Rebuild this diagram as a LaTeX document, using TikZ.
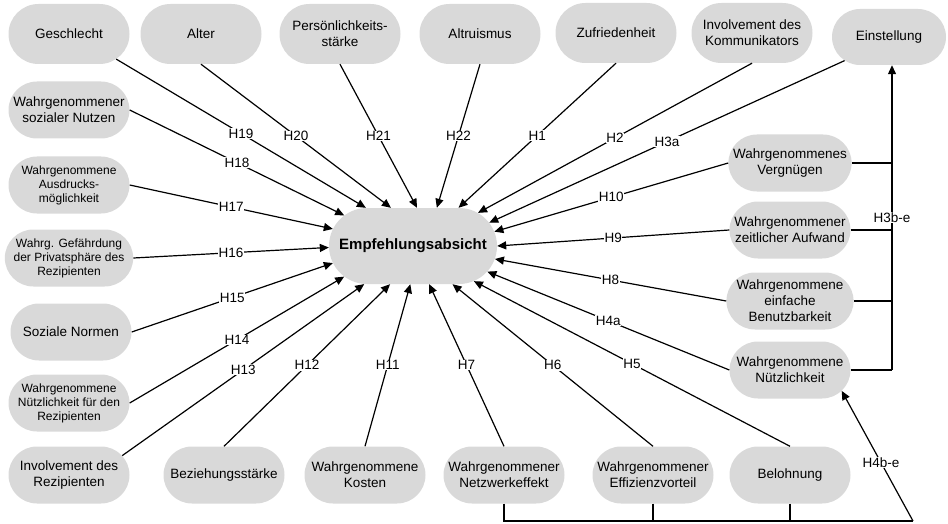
\documentclass[tikz,border=0pt]{standalone}
\usepackage{fontspec}
\setmainfont{Liberation Sans}
\usetikzlibrary{arrows.meta,shapes.misc}
\definecolor{boxgrau}{HTML}{D9D9D9}

\begin{document}
\begin{tikzpicture}[x=1pt, y=-1pt,
	box/.style={rounded rectangle, fill=boxgrau, minimum width=123pt, minimum height=57pt,
		inner sep=1pt, align=center, font=\fontsize{13.5}{16}\selectfont},
	kleinbox/.style={box, font=\fontsize{12}{14}\selectfont},
	hyp/.style={fill=white, inner sep=0.6pt, font=\fontsize{13.5}{15}\selectfont},
	pfeil/.style={-{Triangle[length=9pt,width=8pt]}, line width=1.2pt},
	klammer/.style={line width=1.2pt}]
		\useasboundingbox (0,0) rectangle (948,524);
		\node[box, minimum width=170pt, minimum height=76pt, font=\fontsize{15}{18}\selectfont\bfseries] (emp) at (413,246) {Empfehlungsabsicht};
		
		\node[box, minimum height=60pt] (ges) at (69,34) {Geschlecht};
		\node[box, minimum height=60pt] (alt) at (201,34) {Alter};
		\node[box, minimum height=60pt] (per) at (340,34) {Persönlichkeits-\\stärke};
		\node[box, minimum height=60pt] (altr) at (480,34) {Altruismus};
		\node[box, minimum height=60pt] (zuf) at (616,33) {Zufriedenheit};
		\node[box, minimum height=60pt] (komm) at (752,33) {Involvement des\\Kommunikators};
		\node[box, minimum width=116pt, minimum height=56pt] (ein) at (889,37) {Einstellung};
		
		\node[box] (soz) at (69,110) {Wahrgenommener\\sozialer Nutzen};
		\node[kleinbox] (ausd) at (69,185) {Wahrgenommene\\Ausdrucks-\\möglichkeit};
		\node[kleinbox] (gef) at (69,258) {Wahrg. Gefährdung\\der Privatsphäre des\\Rezipienten};
		\node[box] (norm) at (71,332) {Soziale Normen};
		\node[kleinbox] (nrez) at (69,403) {Wahrgenommene\\Nützlichkeit für den\\Rezipienten};
		\node[box] (irez) at (69,475) {Involvement des\\Rezipienten};
		
		\node[box] (bez) at (224,475) {Beziehungsstärke};
		\node[box] (kos) at (365,475) {Wahrgenommene\\Kosten};
		\node[box] (netz) at (504,475) {Wahrgenommener\\Netzwerkeffekt};
		\node[box] (eff) at (653,475) {Wahrgenommener\\Effizienzvorteil};
		\node[box] (bel) at (790,475) {Belohnung};
		
		\node[box] (verg) at (790,163) {Wahrgenommenes\\Vergnügen};
		\node[box] (zeit) at (790,230) {Wahrgenommener\\zeitlicher Aufwand};
		\node[box] (ben) at (790,301) {Wahrgenommene\\einfache\\Benutzbarkeit};
		\node[box] (nutz) at (790,370) {Wahrgenommene\\Nützlichkeit};
		
		\draw[pfeil] (ges.-28) -- node[hyp]{H19} (emp.141);
		\draw[pfeil] (alt.south) -- node[hyp]{H20} (emp.120);
		\draw[pfeil] (per.south) -- node[hyp]{H21} (emp.84);
		\draw[pfeil] (altr.south) -- node[hyp]{H22} (emp.58);
		\draw[pfeil] (zuf.south) -- node[hyp]{H1} (emp.40);
		\draw[pfeil] (komm.south) -- node[hyp]{H2} (emp.27);
		\draw[pfeil] (ein.-152) -- node[hyp]{H3a} (emp.17);
		\draw[pfeil] (verg.west) -- node[hyp]{H10} (emp.10);
		\draw[pfeil] (zeit.west) -- node[hyp]{H9} (emp.0);
		\draw[pfeil] (ben.west) -- node[hyp]{H8} (emp.-9);
		\draw[pfeil] (nutz.west) -- node[hyp]{H4a} (emp.-19);
		\draw[pfeil] (bel.north) -- node[hyp]{H5} (emp.-30);
		\draw[pfeil] (eff.north) -- node[hyp]{H6} (emp.-44);
		\draw[pfeil] (netz.north) -- node[hyp]{H7} (emp.-67);
		\draw[pfeil] (kos.north) -- node[hyp]{H11} (emp.266);
		\draw[pfeil] (bez.north) -- node[hyp]{H12} (emp.239);
		\draw[pfeil] (irez.20) -- node[hyp]{H13} (emp.218);
		\draw[pfeil] (nrez.east) -- node[hyp]{H14} (emp.204);
		\draw[pfeil] (norm.east) -- node[hyp]{H15} (emp.192);
		\draw[pfeil] (gef.east) -- node[hyp]{H16} (emp.181);
		\draw[pfeil] (ausd.east) -- node[hyp]{H17} (emp.168);
		\draw[pfeil] (soz.east) -- node[hyp]{H18} (emp.156);
		
		\coordinate (rail) at (892,0);
		\draw[klammer] (verg.east) -- (verg.east -| rail);
		\draw[klammer] (zeit.east) -- (zeit.east -| rail);
		\draw[klammer] (ben.east) -- (ben.east -| rail);
		\draw[klammer] (nutz.east) -- (nutz.east -| rail);
		\draw[pfeil] (nutz.east -| rail) -- node[hyp]{H3b-e} (rail |- ein.south);
		
		\coordinate (sohle) at (0,521);
		\coordinate (knick) at (913,521);
		\draw[klammer] (netz.south) -- (netz.south |- sohle) -- (knick);
		\draw[klammer] (eff.south) -- (eff.south |- sohle);
		\draw[klammer] (bel.south) -- (bel.south |- sohle);
		\draw[pfeil] (knick) -- node[hyp, pos=0.45]{H4b-e} (nutz.-22);
\end{tikzpicture}
\end{document}
